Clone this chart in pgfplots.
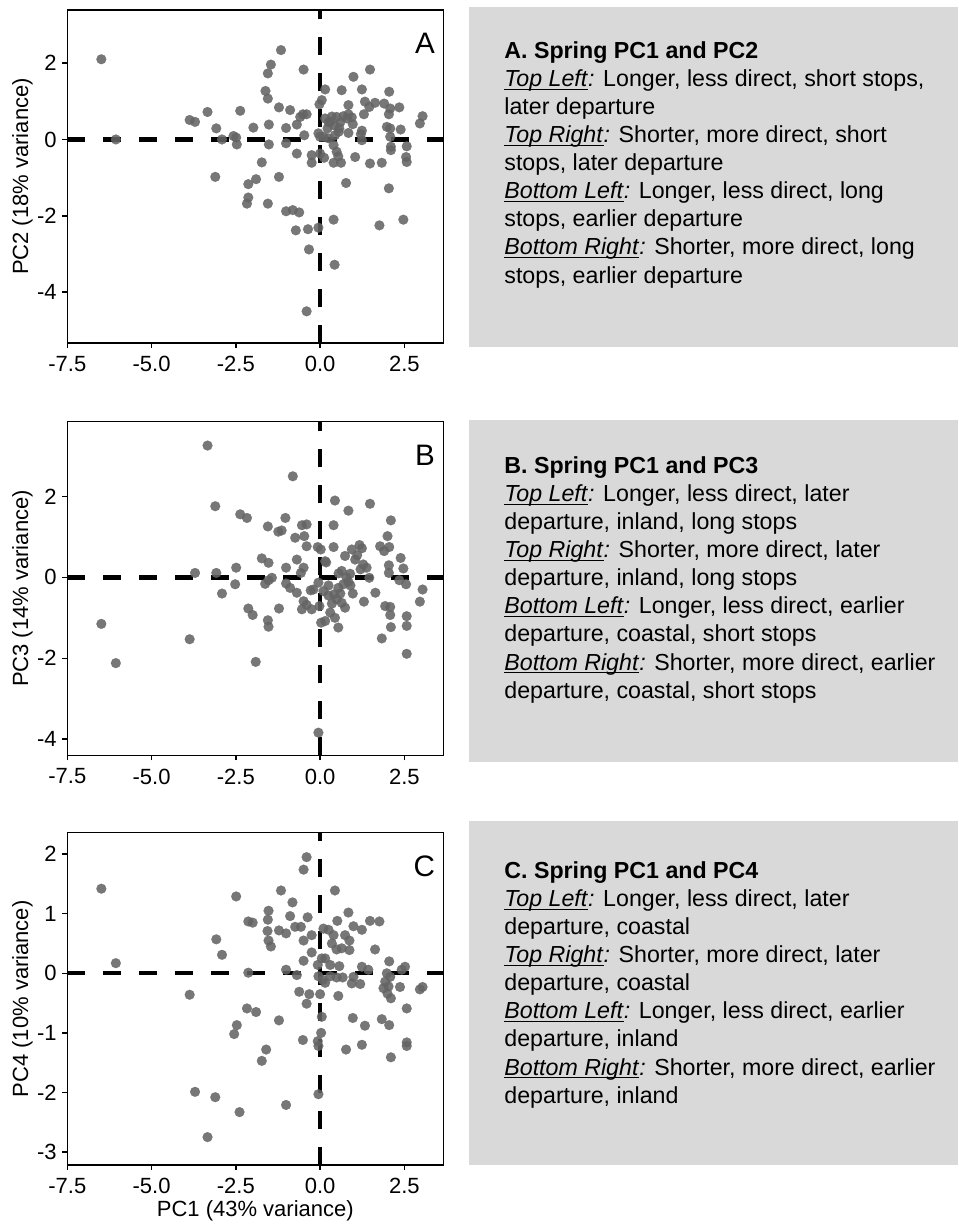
\documentclass[border=0pt]{standalone}
\usepackage{fontspec}
\setmainfont{Liberation Sans}
\usepackage{pgfplots}
\pgfplotsset{compat=1.18}
\definecolor{boxgrey}{RGB}{217,217,217}
\definecolor{ptgrey}{RGB}{100,100,100}

% underline that sits just under the baseline
\newcommand\ul[1]{\setbox0\hbox{#1}\rlap{\rule[-1.7pt]{\wd0}{0.6pt}}\box0}
\newcommand\lab[1]{\ul{\textit{#1}}\textit{:}}

\pgfplotsset{
  pcaxis/.style={
    scale only axis, width=188pt, anchor=north west,
    xmin=-7.5, xmax=3.655,
    xtick={-7.5,-5,-2.5,0,2.5},
    xticklabel style={/pgf/number format/fixed, /pgf/number format/fixed zerofill, /pgf/number format/precision=1},
    tick align=outside, tick pos=left, major tick length=2.5pt,
    axis line style={line width=0.75pt, black},
    every tick/.style={line width=0.75pt, black},
    /pgf/number format/assume math mode=true,
    tick label style={font=\fontsize{11}{13}\selectfont, inner sep=0pt},
    yticklabel style={anchor=east, xshift=-2.6pt},
    xticklabel style={anchor=north, yshift=-4pt},
    every axis y label/.style={at={(rel axis cs:0,0.5)}, rotate=90, anchor=center, yshift=22.4pt, font=\fontsize{11}{13}\selectfont},
    every axis x label/.style={at={(rel axis cs:0.5,0)}, anchor=center, yshift=-23pt, font=\fontsize{11}{13}\selectfont},
  },
  pts/.style={only marks, mark=*, mark size=2.45pt, mark options={draw=ptgrey, fill=ptgrey, line width=0.1pt, opacity=0.88}},
  zl/.style={line width=2.15pt, dash pattern=on 9pt off 9pt, black, forget plot},
}
\tikzset{letter/.style={anchor=north east, inner sep=0pt, font=\fontsize{14.8}{16}\selectfont}}
\newcommand\txt[3]{\node[anchor=base west, inner sep=0pt, font=\fontsize{11.6}{14}\selectfont] at (#1,#2) {#3};}

\begin{document}
\begin{tikzpicture}
\useasboundingbox (0,0) rectangle (479pt,-612.5pt);

% text boxes, in pixel units of the reference
\begin{scope}[x=0.5pt, y=-0.5pt]
\fill[boxgrey] (469,7) rectangle (958,347);
\fill[boxgrey] (469,420) rectangle (958,762);
\fill[boxgrey] (469,821) rectangle (958,1165);

\txt{504}{58.3}{\textbf{A. Spring PC1 and PC2}}
\txt{504}{86.4}{\lab{Top Left} Longer, less direct, short stops,}
\txt{504}{114.5}{later departure}
\txt{504}{142.6}{\lab{Top Right} Shorter, more direct, short}
\txt{504}{170.7}{stops, later departure}
\txt{504}{198.8}{\lab{Bottom Left} Longer, less direct, long}
\txt{504}{226.9}{stops, earlier departure}
\txt{504}{255}{\lab{Bottom Right} Shorter, more direct, long}
\txt{504}{283.1}{stops, earlier departure}

\txt{504}{473.3}{\textbf{B. Spring PC1 and PC3}}
\txt{504}{501.4}{\lab{Top Left} Longer, less direct, later}
\txt{504}{529.5}{departure, inland, long stops}
\txt{504}{557.6}{\lab{Top Right} Shorter, more direct, later}
\txt{504}{585.7}{departure, inland, long stops}
\txt{504}{613.8}{\lab{Bottom Left} Longer, less direct, earlier}
\txt{504}{641.9}{departure, coastal, short stops}
\txt{504}{670}{\lab{Bottom Right} Shorter, more direct, earlier}
\txt{504}{698.1}{departure, coastal, short stops}

\txt{504}{878.3}{\textbf{C. Spring PC1 and PC4}}
\txt{504}{906.4}{\lab{Top Left} Longer, less direct, later}
\txt{504}{934.5}{departure, coastal}
\txt{504}{962.6}{\lab{Top Right} Shorter, more direct, later}
\txt{504}{990.7}{departure, coastal}
\txt{504}{1018.8}{\lab{Bottom Left} Longer, less direct, earlier}
\txt{504}{1046.9}{departure, inland}
\txt{504}{1075}{\lab{Bottom Right} Shorter, more direct, earlier}
\txt{504}{1103.1}{departure, inland}
\end{scope}

% A: PC1 vs PC2
\begin{axis}[pcaxis, at={(33.65pt,-5pt)}, height=166.5pt,
    ymin=-5.33, ymax=3.39, ytick={-4,-2,0,2},
    ylabel={PC2 (18\% variance)}]
\addplot[zl] coordinates {(-7.5,0) (3.655,0)};
\addplot[zl] coordinates {(0,-5.33) (0,3.39)};
\addplot[pts] coordinates {
(-6.49,2.10) (-6.06,0.00) (-3.87,0.51) (-3.71,0.46) (-3.34,0.72) (-3.08,0.29)
(-2.91,0.00) (-3.11,-0.98) (-2.57,0.09) (-2.49,0.05) (-2.47,-0.13) (-2.37,0.75)
(-2.13,-1.17) (-2.17,-1.68) (-2.13,-1.52) (-1.98,0.31) (-1.90,-1.04) (-1.73,-0.60)
(-1.62,1.27) (-1.55,1.07) (-1.55,1.73) (-1.46,1.96) (-1.52,0.39) (-1.52,-0.13)
(-1.55,-1.68) (-1.16,2.34) (-1.22,0.84) (-1.22,-0.98) (-1.01,0.30) (-1.01,-0.10)
(-1.01,-1.88) (-0.89,0.77) (-0.81,-1.85) (-0.72,-2.38) (-0.62,-1.91) (-0.69,0.39)
(-0.69,-0.37) (-0.49,1.83) (-0.59,0.59) (-0.51,0.66) (-0.40,0.66) (-0.47,0.11)
(-0.36,-2.35) (-0.33,-2.88) (-0.40,-4.50) (-0.25,-0.41) (-0.25,-0.61) (-0.05,-2.31)
(-0.05,0.16) (0.00,0.07) (0.00,-0.37) (-0.02,0.92) (0.05,1.03) (0.15,1.31)
(0.12,-0.48) (0.64,1.29) (0.99,1.64) (1.48,1.83) (1.24,1.31) (2.05,1.25)
(0.84,0.90) (1.33,0.99) (1.46,0.85) (1.63,0.96) (1.90,0.94) (2.08,0.81)
(2.35,0.84) (1.30,0.66) (2.04,0.66) (3.04,0.61) (2.96,0.42) (0.15,0.55)
(0.30,0.46) (0.49,0.59) (0.69,0.61) (0.84,0.66) (0.94,0.58) (0.97,0.40)
(0.42,0.37) (0.57,0.29) (0.22,0.29) (0.10,0.07) (0.25,0.03) (0.44,0.11)
(0.84,0.17) (1.24,0.23) (1.21,0.14) (1.24,-0.02) (1.98,0.33) (2.08,0.29)
(2.39,0.26) (2.08,0.07) (2.10,-0.19) (2.10,-0.28) (2.57,-0.18) (2.55,-0.46)
(2.57,-0.59) (0.40,-0.15) (0.49,-0.32) (0.54,-0.44) (0.40,-0.61) (0.62,-0.61)
(1.04,-0.46) (1.48,-0.63) (1.83,-0.61) (0.77,-1.14) (2.04,-1.28) (0.40,-2.10)
(1.76,-2.25) (2.47,-2.10) (0.43,-3.28) (0.35,0.60) (0.60,0.45) (0.80,0.55)
(0.25,0.45) (0.55,0.20)
};
\node[letter] at ([xshift=-4pt,yshift=-11.5pt]rel axis cs:1,1) {A};
\end{axis}

% B: PC1 vs PC3
\begin{axis}[pcaxis, at={(33.65pt,-210.85pt)}, height=166.8pt,
    ymin=-4.4, ymax=3.85, ytick={-4,-2,0,2},
    ylabel={PC3 (14\% variance)}]
\addplot[zl] coordinates {(-7.5,0) (3.655,0)};
\addplot[zl] coordinates {(0,-4.4) (0,3.85)};
\addplot[pts] coordinates {
(-6.49,-1.15) (-6.06,-2.12) (-3.87,-1.53) (-3.71,0.11) (-3.34,3.26) (-3.11,1.76)
(-3.08,0.11) (-2.91,-0.40) (-2.52,-0.17) (-2.49,0.24) (-2.37,1.56) (-2.17,1.47)
(-2.13,-0.77) (-2.00,-0.93) (-1.91,-2.09) (-1.73,0.47) (-1.55,1.26) (-1.53,0.36)
(-1.63,-0.16) (-1.53,-0.07) (-1.43,-0.01) (-1.55,-1.06) (-1.53,-1.22) (-1.24,1.13)
(-1.14,1.16) (-1.22,-0.77) (-1.03,1.47) (-1.01,0.24) (-1.01,-0.15) (-0.89,-0.26)
(-0.81,2.50) (-0.74,0.98) (-0.69,0.44) (-0.69,-0.38) (-0.54,1.29) (-0.40,1.31)
(-0.47,1.02) (-0.40,0.77) (-0.49,0.24) (-0.57,0.11) (-0.49,-0.59) (-0.40,-0.68)
(-0.54,-0.79) (-0.25,-0.79) (-0.28,-0.32) (-0.07,0.75) (0.02,0.69) (-0.05,-3.84)
(0.03,-1.12) (-0.05,-0.13) (-0.20,-0.30) (-0.02,-0.71)
(0.44,1.90) (0.84,1.65) (1.48,1.82) (2.10,1.41) (0.40,1.29) (2.00,1.02)
(1.78,0.77) (1.90,0.65) (2.05,0.75) (2.39,0.48) (2.47,0.22) (2.04,0.30)
(2.04,0.11) (2.35,-0.07) (2.55,-0.17) (3.04,-0.30) (2.96,-0.60) (0.40,0.75)
(0.74,0.53) (0.94,0.69) (1.17,0.80) (1.24,0.72) (1.04,0.44) (1.28,0.32)
(1.38,0.24) (1.46,-0.01) (0.64,0.16) (0.89,0.09) (0.84,-0.11) (0.69,-0.17)
(0.54,-0.26) (0.41,-0.42) (0.49,-0.54) (0.64,-0.63) (0.74,-0.75) (0.35,-0.65)
(0.30,-0.87) (0.15,-1.08) (0.44,-1.00) (0.54,-1.24) (0.10,-0.34) (0.15,0.40)
(0.97,-0.40) (1.30,-0.60) (1.64,-0.38) (1.93,-0.71) (2.08,-0.73) (2.08,-0.93)
(2.10,-1.23) (2.57,-0.96) (2.57,-1.20) (1.83,-1.51) (2.57,-1.89) (0.18,0.37)
(0.25,-0.20) (0.60,-0.40) (0.78,0.00) (1.10,0.55) (1.20,0.20) (0.55,0.10)
(0.25,-0.45) (0.90,-0.20)
};
\node[letter] at ([xshift=-4pt,yshift=-11.5pt]rel axis cs:1,1) {B};
\end{axis}

% C: PC1 vs PC4
\begin{axis}[pcaxis, at={(33.65pt,-416.35pt)}, height=166.2pt,
    ymin=-3.22, ymax=2.36, ytick={-3,-2,-1,0,1,2},
    ylabel={PC4 (10\% variance)}, xlabel={PC1 (43\% variance)}]
\addplot[zl] coordinates {(-7.5,0) (3.655,0)};
\addplot[zl] coordinates {(0,-3.22) (0,2.36)};
\addplot[pts] coordinates {
(-6.49,1.42) (-6.06,0.17) (-3.87,-0.36) (-3.71,-1.99) (-3.34,-2.75) (-3.08,0.57)
(-2.91,0.31) (-3.11,-2.08) (-2.49,1.29) (-2.55,-1.02) (-2.47,-0.87) (-2.39,-2.33)
(-2.17,-0.59) (-2.13,0.87) (-2.00,0.85) (-2.13,0.01) (-1.90,-0.65) (-1.73,-1.47)
(-1.60,-1.28) (-1.55,0.90) (-1.53,1.05) (-1.56,0.71) (-1.53,0.55) (-1.46,0.45)
(-1.22,-0.79) (-1.16,1.39) (-1.22,0.72) (-1.01,0.67) (-1.01,0.06) (-1.01,-2.21)
(-0.82,1.19) (-0.89,0.96) (-0.74,0.78) (-0.57,0.78) (-0.69,-0.03) (-0.62,-0.31)
(-0.40,1.95) (-0.49,1.74) (-0.37,0.94) (-0.25,0.64) (-0.49,0.55) (-0.25,0.35)
(-0.49,0.21) (-0.32,-0.35) (-0.40,-0.51) (-0.51,-1.12) (-0.07,0.14) (0.05,0.25)
(-0.05,-0.05) (0.08,-0.11) (0.00,-0.35) (-0.07,-1.14) (0.03,-1.00) (-0.05,-1.22)
(-0.05,-2.03) (0.05,-0.73)
(0.44,1.39) (0.84,1.02) (0.51,0.88) (1.48,0.88) (1.76,0.87) (0.99,0.79)
(1.24,0.73) (0.10,0.75) (0.25,0.73) (0.40,0.64) (0.74,0.64) (0.87,0.55)
(0.35,0.50) (0.49,0.40) (0.64,0.42) (0.87,0.39) (0.15,0.25) (0.30,0.14)
(0.57,0.12) (0.67,-0.07) (0.49,-0.07) (0.30,-0.05) (0.15,-0.16) (0.54,-0.38)
(1.63,0.40) (2.05,0.20) (1.24,0.11) (1.43,0.06) (0.99,-0.06) (0.94,-0.17)
(1.19,-0.18) (2.52,0.11) (2.42,0.06) (1.98,0.00) (2.08,-0.06) (1.93,-0.14)
(2.03,-0.22) (1.88,-0.25) (2.00,-0.34) (2.10,-0.42) (2.37,-0.23) (2.96,-0.27)
(3.04,-0.23) (2.57,-0.59) (0.97,-0.75) (1.33,-0.88) (1.83,-0.77) (2.05,-0.87)
(0.77,-1.28) (1.24,-1.20) (2.57,-1.16) (2.57,-1.22) (2.10,-1.41)
};
\node[letter] at ([xshift=-4pt,yshift=-11.5pt]rel axis cs:1,1) {C};
\end{axis}
\end{tikzpicture}
\end{document}
